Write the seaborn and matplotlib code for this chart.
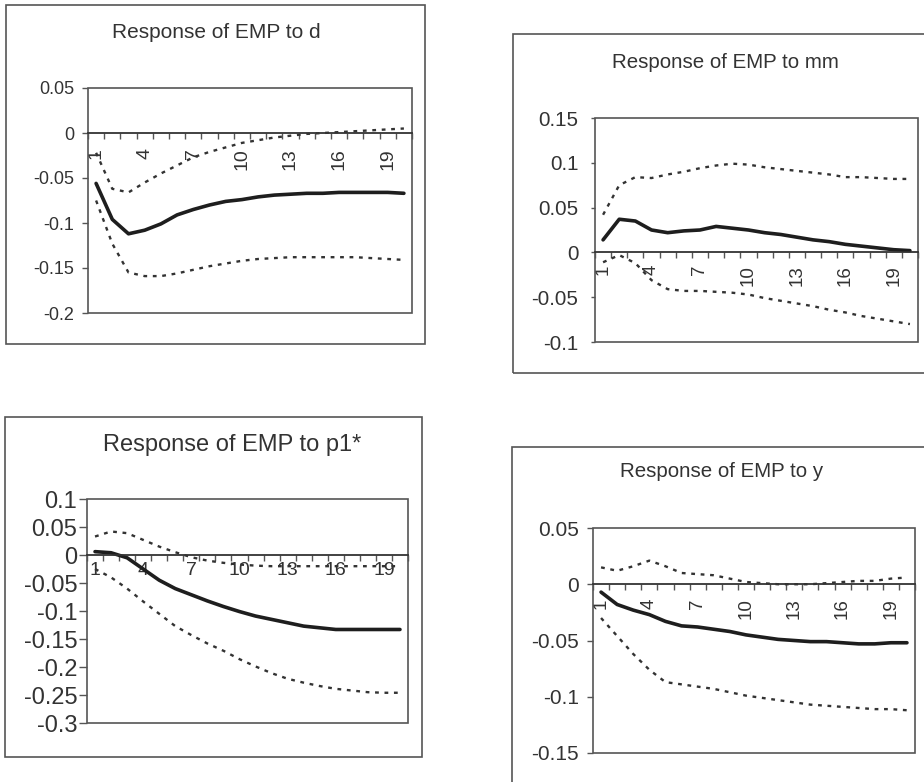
import matplotlib
matplotlib.use("Agg")
import matplotlib.pyplot as plt
from matplotlib.patches import Rectangle
import pandas as pd
import seaborn as sns

sns.set_theme(style="white")
plt.rcParams["font.family"] = ["Liberation Sans", "DejaVu Sans"]
plt.rcParams["text.color"] = "#333333"

W, H = 924, 782

periods = list(range(1, 21))
x_labels = [1, 4, 7, 10, 13, 16, 19]

# response of EMP to d
resp_d = [-0.056, -0.096, -0.112, -0.108, -0.101, -0.091, -0.085, -0.080, -0.076, -0.074,
          -0.071, -0.069, -0.068, -0.067, -0.067, -0.066, -0.066, -0.066, -0.066, -0.067]
upper_d = [-0.022, -0.062, -0.066, -0.055, -0.045, -0.036, -0.027, -0.021, -0.016, -0.011,
           -0.008, -0.005, -0.003, -0.001, 0.000, 0.001, 0.002, 0.003, 0.004, 0.005]
lower_d = [-0.075, -0.123, -0.155, -0.159, -0.159, -0.156, -0.152, -0.148, -0.145, -0.142,
           -0.140, -0.139, -0.138, -0.138, -0.138, -0.138, -0.138, -0.139, -0.140, -0.141]
yticks_d = [0.05, 0, -0.05, -0.1, -0.15, -0.2]

# response of EMP to mm
resp_mm = [0.014, 0.037, 0.035, 0.025, 0.022, 0.024, 0.025, 0.029, 0.027, 0.025,
           0.022, 0.020, 0.017, 0.014, 0.012, 0.009, 0.007, 0.005, 0.003, 0.002]
upper_mm = [0.042, 0.075, 0.084, 0.083, 0.087, 0.090, 0.094, 0.097, 0.099, 0.098,
            0.095, 0.093, 0.091, 0.089, 0.087, 0.084, 0.084, 0.083, 0.082, 0.082]
lower_mm = [-0.011, -0.003, -0.012, -0.031, -0.041, -0.043, -0.043, -0.044, -0.045, -0.047,
            -0.051, -0.054, -0.057, -0.060, -0.064, -0.067, -0.071, -0.074, -0.077, -0.080]
yticks_mm = [0.15, 0.1, 0.05, 0, -0.05, -0.1]

# response of EMP to p1*
resp_p1 = [0.006, 0.004, -0.005, -0.025, -0.045, -0.060, -0.071, -0.082, -0.092, -0.101,
           -0.109, -0.115, -0.121, -0.127, -0.130, -0.133, -0.133, -0.133, -0.133, -0.133]
upper_p1 = [0.033, 0.042, 0.039, 0.027, 0.015, 0.005, -0.004, -0.010, -0.014, -0.017,
            -0.019, -0.020, -0.020, -0.020, -0.020, -0.020, -0.020, -0.020, -0.020, -0.020]
lower_p1 = [-0.025, -0.040, -0.060, -0.083, -0.105, -0.127, -0.143, -0.158, -0.171, -0.186,
            -0.199, -0.211, -0.221, -0.228, -0.234, -0.239, -0.242, -0.245, -0.246, -0.246]
yticks_p1 = [0.1, 0.05, 0, -0.05, -0.1, -0.15, -0.2, -0.25, -0.3]

# response of EMP to y
resp_y = [-0.007, -0.018, -0.023, -0.027, -0.033, -0.037, -0.038, -0.040, -0.042, -0.045,
          -0.047, -0.049, -0.050, -0.051, -0.051, -0.052, -0.053, -0.053, -0.052, -0.052]
upper_y = [0.015, 0.012, 0.016, 0.021, 0.016, 0.010, 0.009, 0.008, 0.005, 0.002,
           0.001, 0.000, 0.000, 0.000, 0.001, 0.002, 0.003, 0.003, 0.005, 0.006]
lower_y = [-0.030, -0.046, -0.062, -0.076, -0.087, -0.089, -0.091, -0.093, -0.096, -0.099,
           -0.101, -0.103, -0.105, -0.107, -0.108, -0.109, -0.110, -0.111, -0.111, -0.112]
yticks_y = [0.05, 0, -0.05, -0.1, -0.15]


def px_rect(l, t, r, b):
    return [l / W, 1 - b / H, (r - l) / W, (b - t) / H]


def draw_panel(fig, plot_px, box_px, title, title_px, title_size,
               resp, upper, lower, yticks, ysize, ypad, ylen, xsize, xpad, rotate):
    # outer frame of the panel
    l, t, r, b = box_px
    fig.patches.append(Rectangle((l / W, 1 - b / H), (r - l) / W, (b - t) / H,
                                 transform=fig.transFigure, fill=False,
                                 edgecolor="#555555", linewidth=1.2))
    fig.text(title_px[0] / W, 1 - title_px[1] / H, title, ha="center", va="center",
             fontsize=title_size, color="#333333")

    ax = fig.add_axes(px_rect(*plot_px))
    df = pd.DataFrame({"period": periods, "resp": resp, "upper": upper, "lower": lower})
    for col in ["upper", "lower"]:
        sns.lineplot(data=df, x="period", y=col, ax=ax, color="#333333",
                     linestyle=(0, (1.6, 2.4)), linewidth=1.7)
    sns.lineplot(data=df, x="period", y="resp", ax=ax, color="#1e1e1e", linewidth=2.6)

    ax.set_xlim(0.5, 20.5)
    ax.set_ylim(min(yticks), max(yticks))
    ax.set_xlabel("")
    ax.set_ylabel("")

    for side in ["top", "left", "right"]:
        ax.spines[side].set_visible(False)
    ax.spines["bottom"].set_position(("data", 0))
    ax.spines["bottom"].set_color("#333333")
    ax.spines["bottom"].set_linewidth(1.3)
    ax.add_patch(Rectangle((0, 0), 1, 1, transform=ax.transAxes, fill=False,
                           edgecolor="#555555", linewidth=1.2, clip_on=False))

    ax.set_yticks(yticks)
    ax.set_yticklabels([f"{v:g}" for v in yticks])
    ax.tick_params(axis="y", left=True, direction="out", length=ylen, width=1,
                   color="#555555", labelsize=ysize, pad=ypad, labelcolor="#333333")

    ax.set_xticks(x_labels)
    ax.set_xticklabels([str(v) for v in x_labels], rotation=90 if rotate else 0)
    ax.set_xticks([p - 0.5 for p in periods] + [20.5], minor=True)
    ax.tick_params(axis="x", which="major", bottom=True, length=0, labelsize=xsize,
                   pad=xpad, labelcolor="#333333")
    ax.tick_params(axis="x", which="minor", bottom=True, direction="out", length=4,
                   width=1, color="#555555")
    return ax


fig = plt.figure(figsize=(W / 100, H / 100), dpi=100)
fig.patch.set_facecolor("white")

draw_panel(fig, (88, 88, 412, 313), (6, 5, 425, 344), "Response of EMP to d", (216, 32), 15,
           resp_d, upper_d, lower_d, yticks_d, 13, 6, 4, 14, 11, True)
draw_panel(fig, (595, 118, 918, 342), (513, 34, 940, 373), "Response of EMP to mm", (725, 62), 14.8,
           resp_mm, upper_mm, lower_mm, yticks_mm, 14.8, 9, 3, 13.5, 9, True)
draw_panel(fig, (87, 499, 408, 723), (5, 417, 422, 757), "Response of EMP to p1*", (232, 445), 17,
           resp_p1, upper_p1, lower_p1, yticks_p1, 17, 1, 6, 14, 5, False)
draw_panel(fig, (593, 528, 915, 753), (512, 447, 940, 800), "Response of EMP to y", (722, 472), 14.8,
           resp_y, upper_y, lower_y, yticks_y, 15, 6, 4, 13.5, 10, True)

fig.savefig("out.png", dpi=100)
